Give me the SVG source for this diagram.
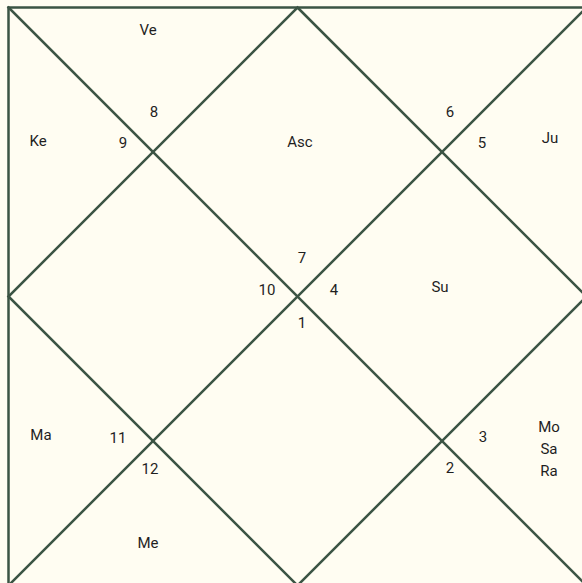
<svg xmlns="http://www.w3.org/2000/svg" width="582" height="583" viewBox="0 0 582 583">
<style>
.ln{stroke:#3b5444;stroke-width:2.5;fill:none;stroke-linecap:square}
text{font-family:Roboto,"Liberation Sans",sans-serif;font-size:15px;fill:#1f1f1f;text-anchor:middle;dominant-baseline:central}
</style>
<rect x="0" y="0" width="582" height="583" fill="#fffdf2"/>
<g id="connectors">
<rect class="ln" x="8.5" y="7.5" width="578" height="578"/>
<line class="ln" x1="8.5" y1="7.5" x2="586.5" y2="585.5"/>
<line class="ln" x1="586.5" y1="7.5" x2="8.5" y2="585.5"/>
<polygon class="ln" points="297.5,7.5 586.5,296.5 297.5,585.5 8.5,296.5"/>
</g>
<g id="house-asc"><text x="302" y="258">7</text><text x="300" y="142">Asc</text></g>
<g id="house-top-left"><text x="154" y="112">8</text><text x="148" y="30">Ve</text></g>
<g id="house-left-top"><text x="123" y="143">9</text><text x="38" y="141">Ke</text></g>
<g id="house-left-center"><text x="267" y="290">10</text></g>
<g id="house-left-bottom"><text x="118" y="438">11</text><text x="41" y="435">Ma</text></g>
<g id="house-bottom-left"><text x="150" y="469">12</text><text x="148" y="543">Me</text></g>
<g id="house-bottom-center"><text x="302" y="323">1</text></g>
<g id="house-bottom-right"><text x="450" y="468">2</text></g>
<g id="house-right-bottom"><text x="483" y="437">3</text><text x="549" y="427">Mo</text><text x="549" y="449">Sa</text><text x="549" y="471">Ra</text></g>
<g id="house-right-center"><text x="334" y="290">4</text><text x="440" y="287">Su</text></g>
<g id="house-right-top"><text x="482" y="143">5</text><text x="550" y="138">Ju</text></g>
<g id="house-top-right"><text x="450" y="112">6</text></g>
</svg>
